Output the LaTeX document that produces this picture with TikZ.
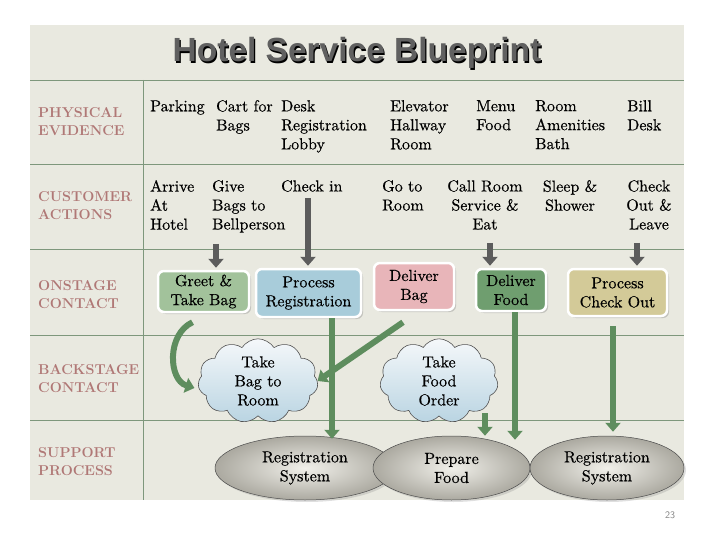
\documentclass[tikz,border=0pt]{standalone}
\usepackage{fontspec}
\newfontfamily\titlefont{Liberation Sans}
\newfontfamily\bodyfont{lmroman10-regular.otf}[FakeBold=0.45]
\usetikzlibrary{arrows.meta}
\usetikzlibrary{shapes.symbols}
\usetikzlibrary{shapes.geometric}
\usetikzlibrary{shadows}

\definecolor{panelbg}{HTML}{E9E9E0}
\definecolor{gridgreen}{HTML}{7E977C}
\definecolor{rowlabel}{HTML}{B07876}
\definecolor{arrowgreen}{HTML}{5E8D5E}
\definecolor{arrowgray}{HTML}{5C5C5C}
\definecolor{greetfill}{HTML}{A2C29B}
\definecolor{regfill}{HTML}{A8CCDA}
\definecolor{bagfill}{HTML}{E8B5B9}
\definecolor{foodfill}{HTML}{6F9E6F}
\definecolor{outfill}{HTML}{D3CA98}
\definecolor{ovalin}{HTML}{F1F0EA}
\definecolor{ovalout}{HTML}{ABA9A0}
\definecolor{cloudtop}{HTML}{F5F8FA}
\definecolor{cloudbottom}{HTML}{B9D4E2}

\tikzset{
    gridline/.style={draw=gridgreen, line width=0.9pt},
    rowname/.style={anchor=west, inner sep=0pt, align=left, text=rowlabel,
        font=\bfseries\fontsize{14.3}{18}\selectfont},
    cell/.style={anchor=north west, inner sep=0pt, align=left,
        font=\bodyfont\fontsize{16}{19}\selectfont},
    ccell/.style={cell, anchor=north, align=center},
    onstage/.style={rectangle, rounded corners=6pt, draw=white, line width=2.5pt,
        align=center, inner sep=2pt, font=\bodyfont\fontsize{16}{19}\selectfont,
        drop shadow={opacity=0.35, shadow xshift=2pt, shadow yshift=-2pt}},
    backcloud/.style={cloud, cloud puffs=11, cloud puff arc=115, aspect=1.6,
        draw=gray!65!black, line width=0.6pt, top color=cloudtop,
        bottom color=cloudbottom, align=center, inner sep=0pt,
        font=\bodyfont\fontsize{16}{19}\selectfont},
    support/.style={ellipse, draw=gray!60!black, line width=0.5pt,
        inner color=ovalin, outer color=ovalout,
        align=center, inner sep=0pt, font=\bodyfont\fontsize{16}{19}\selectfont,
        drop shadow={opacity=0.25, shadow xshift=2pt, shadow yshift=-2pt}},
    grayarrow/.style={line width=6pt, draw=arrowgray, -{Triangle[length=9pt,width=15pt]}},
    greenarrow/.style={line width=6pt, draw=arrowgreen, -{Triangle[length=9pt,width=15pt]}}
}

\begin{document}
\begin{tikzpicture}[x=1pt,y=-1pt]
    \useasboundingbox (0,0) rectangle (720,540);
    \fill[panelbg] (30,25) rectangle (684,500);

    % lanes
    \foreach \y in {80,164,249,335,420}
        \draw[gridline] (30,\y) -- (684,\y);
    \draw[gridline] (143,80) -- (143,500);

    % title
    \node[anchor=base, inner sep=0pt, text=black,
        font=\titlefont\bfseries\fontsize{33.5}{36}\selectfont] (titleshadow) at (358.2,63.2) {Hotel Service Blueprint};
    \node[anchor=base, inner sep=0pt, text=gray!75!black,
        font=\titlefont\bfseries\fontsize{33.5}{36}\selectfont] (title) at (357,62) {Hotel Service Blueprint};

    % row names
    \node[rowname] (physical) at (38,122) {PHYSICAL\\EVIDENCE};
    \node[rowname] (customer) at (38,206) {CUSTOMER\\ACTIONS};
    \node[rowname] (onstagename) at (38,295) {ONSTAGE\\CONTACT};
    \node[rowname] (backstage) at (38,379) {BACKSTAGE\\CONTACT};
    \node[rowname] (supportname) at (38,462) {SUPPORT\\PROCESS};

    % physical evidence
    \node[cell] (parking) at (150,100) {Parking};
    \node[cell] (cart) at (216,100) {Cart for\\Bags};
    \node[cell] (desk) at (281,100) {Desk\\Registration\\Lobby};
    \node[cell] (elevator) at (390,100) {Elevator\\Hallway\\Room};
    \node[cell] (menu) at (476,100) {Menu\\Food};
    \node[cell] (amenities) at (535,100) {Room\\Amenities\\Bath};
    \node[cell] (bill) at (627,100) {Bill\\Desk};

    % customer actions
    \node[cell] (arrive) at (150,180) {Arrive\\At\\Hotel};
    \node[cell] (give) at (212,180) {Give\\Bags to\\Bellperson};
    \node[cell] (checkin) at (281,180) {Check in};
    \node[cell] (goroom) at (382,180) {Go to\\Room};
    \node[ccell] (callroom) at (485,180) {Call Room\\Service \&\\Eat};
    \node[ccell] (sleep) at (570,180) {Sleep \&\\Shower};
    \node[ccell] (leave) at (649,180) {Check\\Out \&\\Leave};

    % onstage contact
    \node[onstage, fill=greetfill, minimum width=91pt, minimum height=41pt] (greet) at (203.5,291.5) {Greet \&\\Take Bag};
    \node[onstage, fill=regfill, minimum width=105pt, minimum height=48pt] (processreg) at (308.5,293) {Process\\Registration};
    \node[onstage, fill=bagfill, minimum width=80pt, minimum height=47pt] (deliverbag) at (414,286.5) {Deliver\\Bag};
    \node[onstage, fill=foodfill, minimum width=70pt, minimum height=42pt] (deliverfood) at (511,290) {Deliver\\Food};
    \node[onstage, fill=outfill, minimum width=99pt, minimum height=47pt] (processout) at (617.5,292.5) {Process\\Check Out};

    % backstage contact
    \node[backcloud, minimum width=120pt, minimum height=74pt] (takebag) at (258,381) {Take\\Bag to\\Room};
    \node[backcloud, minimum width=112pt, minimum height=64pt] (foodorder) at (439,381) {Take\\Food\\Order};

    % support process
    \node[support, minimum width=180pt, minimum height=64pt] (regsysA) at (305,468) {Registration\\System};
    \node[support, minimum width=157pt, minimum height=64pt] (prepare) at (451.5,468) {Prepare\\Food};
    \node[support, minimum width=154pt, minimum height=64pt] (regsysB) at (607,468) {Registration\\System};

    % customer -> onstage
    \draw[grayarrow] ([xshift=4pt,yshift=-11pt]give.south west) -- ([xshift=4pt,yshift=2pt]give.south west |- greet.north);
    \draw[grayarrow] ([xshift=27pt,yshift=-6pt]checkin.south west) -- ([xshift=27pt,yshift=2pt]checkin.south west |- processreg.north);
    \draw[grayarrow] ([xshift=5pt,yshift=-13pt]callroom.south) -- ([xshift=5pt,yshift=2pt]callroom.south |- deliverfood.north);
    \draw[grayarrow] ([xshift=-12pt,yshift=-13pt]leave.south) -- ([xshift=-12pt,yshift=2pt]leave.south |- processout.north);

    % onstage -> backstage -> support
    \draw[greenarrow] ([xshift=-11pt,yshift=-9pt]greet.south) .. controls +(-26,12) and +(-26,-8) .. ([xshift=-4pt,yshift=-7pt]takebag.west);
    \draw[greenarrow] ([xshift=23.5pt]processreg.south) -- ([xshift=23.5pt,yshift=-3pt]processreg.south |- regsysA.north);
    \draw[greenarrow] ([xshift=-11pt,yshift=-11pt]deliverbag.south) -- (takebag.east);
    \draw[greenarrow] ([xshift=46pt,yshift=3pt]foodorder.south) -- ([xshift=46pt]foodorder.south |- prepare.north);
    \draw[greenarrow] ([xshift=4pt]deliverfood.south) -- ([xshift=4pt,yshift=-4pt]deliverfood.south |- prepare.north);
    \draw[greenarrow] ([xshift=-4.5pt,yshift=-9pt]processout.south) -- ([xshift=-4.5pt,yshift=4pt]processout.south |- regsysB.north);

    \node[text=gray, font=\sffamily\fontsize{10}{11}\selectfont] (pagenum) at (670,515) {23};
\end{tikzpicture}
\end{document}
